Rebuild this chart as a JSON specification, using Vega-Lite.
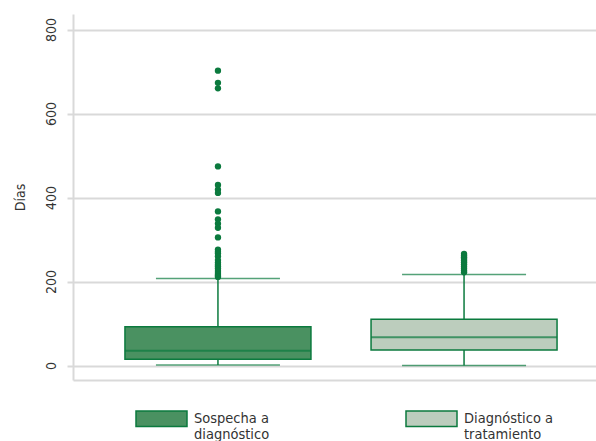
{
  "$schema": "https://vega.github.io/schema/vega-lite/v6.json",
  "width": 523,
  "height": 366,
  "autosize": {"type": "none"},
  "padding": {"left": 73, "top": 14, "right": 0, "bottom": 61},
  "background": "white",
  "config": {
    "view": {"stroke": null},
    "font": "DejaVu Sans Condensed",
    "axis": {"labelFont": "DejaVu Sans Condensed", "titleFont": "DejaVu Sans Condensed"},
    "legend": {"labelFont": "DejaVu Sans Condensed"}
  },
  "datasets": {
    "summary": [
      {"grupo": "Sospecha a diagnóstico", "lo": 1, "q1": 15, "med": 35, "q3": 92, "hi": 207},
      {"grupo": "Diagnóstico a tratamiento", "lo": 0, "q1": 37, "med": 67, "q3": 110, "hi": 217}
    ],
    "outliers": [
      {"grupo": "Sospecha a diagnóstico", "dias": 702},
      {"grupo": "Sospecha a diagnóstico", "dias": 673},
      {"grupo": "Sospecha a diagnóstico", "dias": 660},
      {"grupo": "Sospecha a diagnóstico", "dias": 474},
      {"grupo": "Sospecha a diagnóstico", "dias": 430},
      {"grupo": "Sospecha a diagnóstico", "dias": 419},
      {"grupo": "Sospecha a diagnóstico", "dias": 411},
      {"grupo": "Sospecha a diagnóstico", "dias": 367},
      {"grupo": "Sospecha a diagnóstico", "dias": 348},
      {"grupo": "Sospecha a diagnóstico", "dias": 338},
      {"grupo": "Sospecha a diagnóstico", "dias": 328},
      {"grupo": "Sospecha a diagnóstico", "dias": 305},
      {"grupo": "Sospecha a diagnóstico", "dias": 276},
      {"grupo": "Sospecha a diagnóstico", "dias": 271},
      {"grupo": "Sospecha a diagnóstico", "dias": 267},
      {"grupo": "Sospecha a diagnóstico", "dias": 260},
      {"grupo": "Sospecha a diagnóstico", "dias": 251},
      {"grupo": "Sospecha a diagnóstico", "dias": 245},
      {"grupo": "Sospecha a diagnóstico", "dias": 240},
      {"grupo": "Sospecha a diagnóstico", "dias": 236},
      {"grupo": "Sospecha a diagnóstico", "dias": 231},
      {"grupo": "Sospecha a diagnóstico", "dias": 225},
      {"grupo": "Sospecha a diagnóstico", "dias": 220},
      {"grupo": "Sospecha a diagnóstico", "dias": 216},
      {"grupo": "Sospecha a diagnóstico", "dias": 213},
      {"grupo": "Sospecha a diagnóstico", "dias": 211},
      {"grupo": "Diagnóstico a tratamiento", "dias": 266},
      {"grupo": "Diagnóstico a tratamiento", "dias": 262},
      {"grupo": "Diagnóstico a tratamiento", "dias": 258},
      {"grupo": "Diagnóstico a tratamiento", "dias": 254},
      {"grupo": "Diagnóstico a tratamiento", "dias": 250},
      {"grupo": "Diagnóstico a tratamiento", "dias": 246},
      {"grupo": "Diagnóstico a tratamiento", "dias": 241},
      {"grupo": "Diagnóstico a tratamiento", "dias": 236},
      {"grupo": "Diagnóstico a tratamiento", "dias": 231},
      {"grupo": "Diagnóstico a tratamiento", "dias": 226},
      {"grupo": "Diagnóstico a tratamiento", "dias": 222}
    ]
  },
  "encoding": {
    "x": {
      "field": "grupo",
      "type": "nominal",
      "sort": ["Sospecha a diagnóstico", "Diagnóstico a tratamiento"],
      "scale": {"range": [0, 536], "paddingInner": 0, "paddingOuter": 0.089},
      "axis": {"labels": false, "ticks": false, "title": null, "grid": false, "domain": true, "domainColor": "#d9d9d9", "domainWidth": 2}
    }
  },
  "layer": [
    {
      "data": {"name": "summary"},
      "mark": {"type": "rule", "color": "#0b7a3e", "strokeWidth": 1.5},
      "encoding": {
        "y": {
          "field": "lo",
          "type": "quantitative",
          "scale": {"domain": [-34.5, 837], "nice": false, "zero": false},
          "axis": {
            "values": [0, 200, 400, 600, 800],
            "grid": true,
            "gridColor": "#d9d9d9",
            "gridWidth": 2,
            "domainColor": "#d9d9d9",
            "domainWidth": 2,
            "tickColor": "#d9d9d9",
            "tickWidth": 2,
            "tickSize": 6,
            "labelAngle": -90,
            "labelFontSize": 14,
            "labelColor": "#333333",
            "labelPadding": 9,
            "title": "Días",
            "titleFontSize": 14,
            "titleFontWeight": "normal",
            "titleColor": "#333333",
            "titlePadding": 17
          }
        },
        "y2": {"field": "hi"}
      }
    },
    {
      "data": {"name": "summary"},
      "mark": {"type": "bar", "stroke": "#0b7a3e", "strokeWidth": 1.5, "size": 186},
      "encoding": {
        "y": {"field": "q1", "type": "quantitative"},
        "y2": {"field": "q3"},
        "fill": {
          "field": "grupo",
          "type": "nominal",
          "scale": {"domain": ["Sospecha a diagnóstico", "Diagnóstico a tratamiento"], "range": ["#4a9161", "#bccdbd"]},
          "legend": {
            "orient": "none",
            "legendX": 62,
            "legendY": 378,
            "direction": "horizontal",
            "columns": 2,
            "title": null,
            "padding": 0,
            "symbolType": "M-1,-0.3H1V0.3H-1Z",
            "symbolSize": 2601,
            "symbolStrokeColor": "#0b7a3e",
            "symbolStrokeWidth": 1.5,
            "symbolOpacity": 1,
            "labelFontSize": 14.5,
            "labelColor": "#333333",
            "labelOffset": 6,
            "labelLimit": 300,
            "columnPadding": 133,
            "labelExpr": "datum.value == 'Sospecha a diagnóstico' ? ['Sospecha a', 'diagnóstico'] : ['Diagnóstico a', 'tratamiento']"
          }
        }
      }
    },
    {
      "data": {"name": "summary"},
      "mark": {"type": "tick", "color": "#0b7a3e", "thickness": 2, "size": 186},
      "encoding": {"y": {"field": "med", "type": "quantitative"}}
    },
    {
      "data": {"name": "summary"},
      "mark": {"type": "tick", "color": "#0b7a3e", "thickness": 1.5, "size": 124},
      "encoding": {"y": {"field": "lo", "type": "quantitative"}}
    },
    {
      "data": {"name": "summary"},
      "mark": {"type": "tick", "color": "#0b7a3e", "thickness": 1.5, "size": 124},
      "encoding": {"y": {"field": "hi", "type": "quantitative"}}
    },
    {
      "data": {"name": "outliers"},
      "mark": {"type": "circle", "color": "#0b7a3e", "opacity": 1, "size": 40},
      "encoding": {"y": {"field": "dias", "type": "quantitative"}}
    }
  ]
}
